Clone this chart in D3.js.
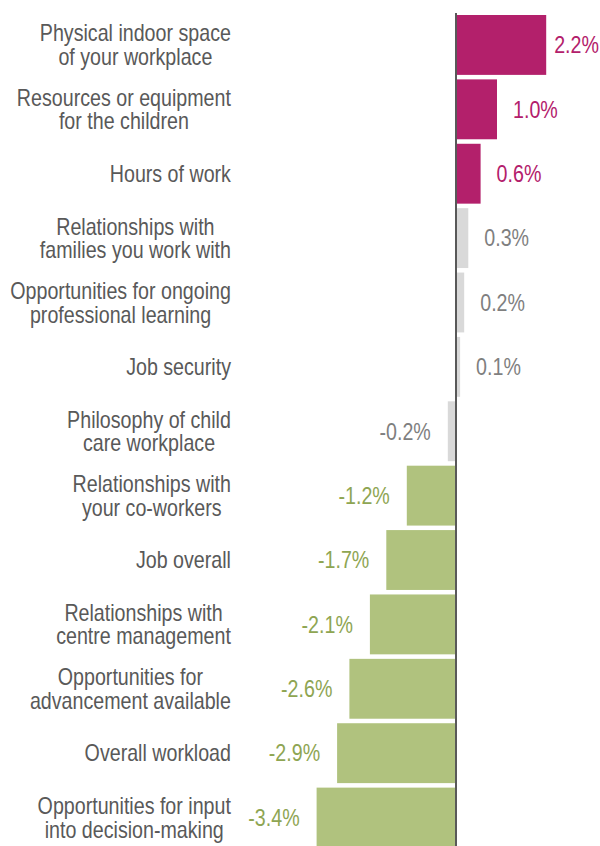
<html>
<head>
<script src="https://cdnjs.cloudflare.com/ajax/libs/d3/7.8.5/d3.min.js"></script>
<style>
  body { margin: 0; background: #fff; }
  svg text { font-family: "Liberation Sans", Arial, sans-serif; }
</style>
</head>
<body>
<svg id="chart" width="600" height="846"></svg>
<script>
  var categories = [
    "Physical indoor space\nof your workplace",
    "Resources or equipment\nfor the children",
    "Hours of work",
    "Relationships with\nfamilies you work with",
    "Opportunities for ongoing\nprofessional learning",
    "Job security",
    "Philosophy of child\ncare workplace",
    "Relationships with\nyour co-workers",
    "Job overall",
    "Relationships with\ncentre management",
    "Opportunities for\nadvancement available",
    "Overall workload",
    "Opportunities for input\ninto decision-making"
  ];
  var values = [2.2, 1.0, 0.6, 0.3, 0.2, 0.1, -0.2, -1.2, -1.7, -2.1, -2.6, -2.9, -3.4];

  var svg = d3.select("#chart");
  var narrow = 0.855; // no Arial Narrow here, so squeeze Liberation Sans

  var x = d3.scaleLinear().domain([-3.4, 2.2]).range([456 - 3.4 * 41, 456 + 2.2 * 41]);
  var y = d3.scaleBand().domain(categories).range([10.5, 852]).padding(0.07);

  function barColor(v) { return v >= 0.5 ? "#b3206b" : (v <= -0.5 ? "#b0c27e" : "#d9d9d9"); }
  function textColor(v) { return v >= 0.5 ? "#b3206b" : (v <= -0.5 ? "#8ea552" : "#7f7f7f"); }

  var rows = categories.map((c, i) => ({ cat: c, v: values[i] }));

  // bars
  svg.selectAll("rect.bar")
    .data(rows)
    .enter()
    .append("rect")
    .attr("class", "bar")
    .attr("x", d => Math.min(x(0), x(d.v)))
    .attr("y", d => y(d.cat))
    .attr("width", d => Math.abs(x(d.v) - x(0)))
    .attr("height", y.bandwidth())
    .attr("fill", d => barColor(d.v));

  // zero line
  svg.append("line")
    .attr("x1", x(0)).attr("x2", x(0))
    .attr("y1", 13).attr("y2", 846)
    .attr("stroke", "#595959")
    .attr("stroke-width", 2);

  // value labels
  rows.forEach(function (d) {
    var cy = y(d.cat) + y.bandwidth() / 2;
    var g = svg.append("g");
    var t = g.append("text")
      .attr("font-size", 23)
      .attr("fill", textColor(d.v))
      .attr("dy", "0.36em")
      .attr("text-anchor", d.v < 0 ? "end" : "start")
      .text(d.v.toFixed(1) + "%");
    var w = t.node().getComputedTextLength() * narrow;
    var lx = d.v < 0 ? x(d.v) - 17 : Math.min(x(d.v) + 16, 599 - w);
    g.attr("transform", "translate(" + lx + "," + cy + ") scale(" + narrow + ",1)");
  });

  // category labels, lines centred in a block that is right-aligned
  var labelRight = 231;
  var lineH = 23.5;
  rows.forEach(function (d) {
    var lines = d.cat.split("\n");
    var cy = y(d.cat) + y.bandwidth() / 2;
    var g = svg.append("g");
    var t = g.append("text")
      .attr("font-size", 23)
      .attr("fill", "#595959")
      .attr("text-anchor", "middle");
    var spans = lines.map(function (l, i) {
      return t.append("tspan")
        .attr("x", 0)
        .attr("y", (i - (lines.length - 1) / 2) * lineH)
        .attr("dy", "0.36em")
        .text(l);
    });
    var maxW = d3.max(spans, s => s.node().getComputedTextLength()) * narrow;
    g.attr("transform", "translate(" + (labelRight - maxW / 2) + "," + cy + ") scale(" + narrow + ",1)");
  });
</script>
</body>
</html>
